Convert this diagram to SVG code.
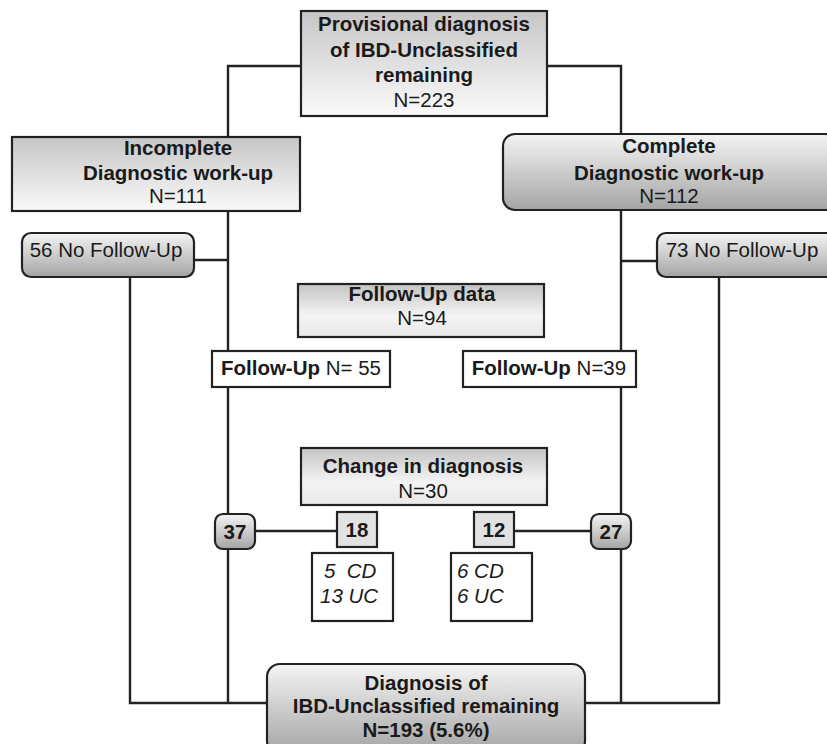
<svg xmlns="http://www.w3.org/2000/svg" width="827" height="744" viewBox="0 0 827 744">
<defs>
<linearGradient id="gDown" x1="0" y1="0" x2="0" y2="1"><stop offset="0" stop-color="#c6c6c6"/><stop offset="1" stop-color="#fafafa"/></linearGradient>
<linearGradient id="gUp" x1="0" y1="0" x2="0" y2="1"><stop offset="0" stop-color="#f4f4f4"/><stop offset="1" stop-color="#a4a4a4"/></linearGradient>
<linearGradient id="gMid" x1="0" y1="0" x2="0" y2="1"><stop offset="0" stop-color="#c4c4c4"/><stop offset="0.6" stop-color="#f4f4f4"/><stop offset="1" stop-color="#e8e8e8"/></linearGradient>
</defs>
<style>
.b{stroke:#222;stroke-width:2.2}
.t{font-family:"Liberation Sans",Arial,sans-serif;font-size:20.5px;fill:#1a1a1a;text-anchor:middle}
.bd{font-weight:bold}
.it{font-style:italic;text-anchor:start;white-space:pre}
.c{fill:none;stroke:#222;stroke-width:2.4}
</style>
<g id="connectors">
<path class="c" d="M301,66 H228 V703 M130,277 V703 H267"/>
<path class="c" d="M547,66 H621 V703 M719,277 V703 H585"/>
<path class="c" d="M194,260 H228 M621,261 H657"/>
<path class="c" d="M255,531 H337 M514,531 H591"/>
</g>
<g id="provisional">
<rect class="b" x="301" y="11" width="246" height="105" fill="url(#gDown)"/>
<text class="t bd" x="424" y="31">Provisional diagnosis</text>
<text class="t bd" x="424" y="57">of IBD-Unclassified</text>
<text class="t bd" x="424" y="82">remaining</text>
<text class="t" x="424" y="107">N=223</text>
</g>
<g id="incomplete">
<rect class="b" x="12" y="137" width="288" height="74" fill="url(#gDown)"/>
<text class="t bd" x="178" y="155">Incomplete</text>
<text class="t bd" x="178" y="180">Diagnostic work-up</text>
<text class="t" x="178" y="203">N=111</text>
</g>
<g id="complete">
<rect class="b" x="503" y="134" width="334" height="76" rx="12" fill="url(#gUp)"/>
<text class="t bd" x="669" y="153">Complete</text>
<text class="t bd" x="669" y="180">Diagnostic work-up</text>
<text class="t" x="669" y="203">N=112</text>
</g>
<g id="nofu56">
<rect class="b" x="22" y="233" width="172" height="44" rx="9" fill="url(#gUp)"/>
<text class="t" x="106" y="257">56 No Follow-Up</text>
</g>
<g id="nofu73">
<rect class="b" x="657" y="233" width="180" height="44" rx="9" fill="url(#gUp)"/>
<text class="t" x="742" y="257">73 No Follow-Up</text>
</g>
<g id="fudata">
<rect class="b" x="298" y="284" width="246" height="53" fill="url(#gMid)"/>
<text class="t bd" x="422" y="301">Follow-Up data</text>
<text class="t" x="422" y="325">N=94</text>
</g>
<g id="fu55">
<rect class="b" x="212" y="351" width="178" height="36" fill="#fff"/>
<text class="t" x="301" y="375"><tspan class="bd">Follow-Up</tspan> N= 55</text>
</g>
<g id="fu39">
<rect class="b" x="463" y="351" width="173" height="36" fill="#fff"/>
<text class="t" x="549" y="375"><tspan class="bd">Follow-Up</tspan> N=39</text>
</g>
<g id="change">
<rect class="b" x="301" y="448" width="246" height="57" fill="url(#gMid)"/>
<text class="t bd" x="423" y="473">Change in diagnosis</text>
<text class="t" x="423" y="498">N=30</text>
</g>
<g id="n37">
<rect class="b" x="215" y="514" width="40" height="35" rx="8" fill="url(#gUp)"/>
<text class="t bd" x="235" y="539">37</text>
</g>
<g id="n18">
<rect class="b" x="337" y="512" width="40" height="35" fill="#e2e2e2"/>
<text class="t bd" x="357" y="537">18</text>
</g>
<g id="n12">
<rect class="b" x="474" y="512" width="40" height="35" fill="#e2e2e2"/>
<text class="t bd" x="494" y="537">12</text>
</g>
<g id="n27">
<rect class="b" x="591" y="514" width="40" height="35" rx="8" fill="url(#gUp)"/>
<text class="t bd" x="611" y="539">27</text>
</g>
<g id="split18">
<rect class="b" x="312" y="553" width="81" height="68" fill="#fff"/>
<text class="t it" x="324" y="578">5  CD</text>
<text class="t it" x="320" y="603">13 UC</text>
</g>
<g id="split12">
<rect class="b" x="451" y="553" width="81" height="68" fill="#fff"/>
<text class="t it" x="457" y="578">6 CD</text>
<text class="t it" x="457" y="603">6 UC</text>
</g>
<g id="final">
<rect class="b" x="267" y="664" width="318" height="90" rx="13" fill="url(#gUp)"/>
<text class="t bd" x="426" y="690">Diagnosis of</text>
<text class="t bd" x="426" y="713">IBD-Unclassified remaining</text>
<text class="t bd" x="426" y="737">N=193 (5.6%)</text>
</g>
</svg>
